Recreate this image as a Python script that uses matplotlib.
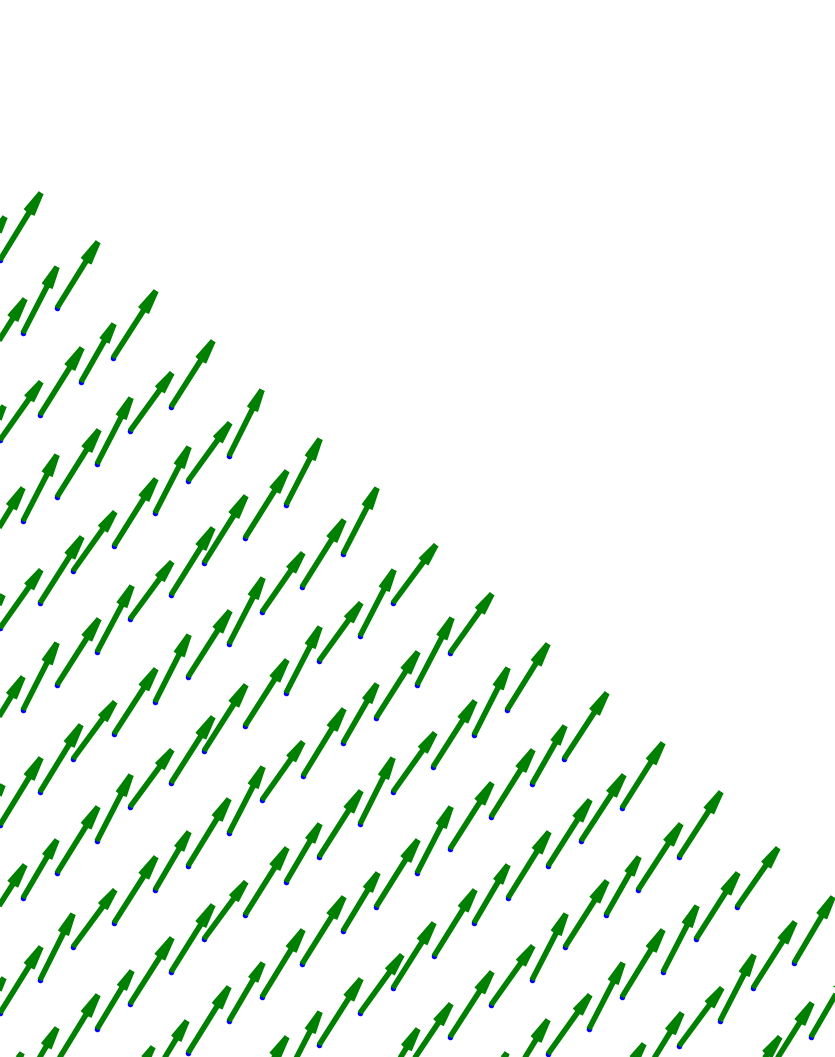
import numpy as np
import matplotlib
matplotlib.use("Agg")
import matplotlib.pyplot as plt
from matplotlib.collections import LineCollection

# tails (blue dots) and tips of the arrows (pixel units, y down)
tail_x = [0, -34,
          57, 23, -17,
          113, 81, 40, 0, -34,
          171, 130, 97, 57, 23, -17,
          229, 188, 155, 114, 73, 40, 0, -34,
          286, 245, 204, 171, 130, 97, 57, 23, -17,
          343, 302, 262, 229, 188, 155, 114, 73, 40, 0, -34,
          393, 360, 319, 286, 245, 204, 171, 130, 97, 57, 23, -17,
          450, 417, 376, 343, 303, 262, 229, 188, 155, 114, 73, 40, 0, -34,
          507, 474, 433, 393, 360, 319, 286, 245, 204, 171, 130, 97, 57, 20, -17,
          564, 532, 491, 450, 417, 376, 343, 302, 262, 229, 188, 150, 113,
          622, 581, 548, 508, 474, 434, 393, 360, 319, 286, 245,
          679, 638, 606, 565, 532, 491, 450, 408, 378,
          737, 696, 663, 622, 589, 548, 507, 470,
          794, 753, 720, 679, 642, 605,
          811, 770, 736]
tail_y = [260, 284,
          308, 333, 366,
          358, 382, 415, 440, 474,
          407, 431, 464, 497, 521, 554,
          456, 481, 513, 546, 571, 603, 628, 657,
          505, 538, 563, 595, 619, 652, 685, 710, 743,
          554, 587, 612, 644, 677, 702, 734, 759, 792, 825, 850,
          603, 636, 661, 693, 726, 751, 783, 807, 841, 873, 898, 931,
          653, 685, 718, 743, 776, 800, 833, 866, 890, 923, 947, 980, 1013, 1042,
          710, 735, 767, 792, 824, 857, 882, 915, 939, 972, 1004, 1029, 1062, 1091, 1120,
          759, 784, 817, 849, 873, 907, 931, 964, 997, 1021, 1053, 1082, 1111,
          808, 841, 866, 898, 923, 956, 988, 1013, 1045, 1078, 1103,
          857, 890, 915, 947, 980, 1005, 1037, 1068, 1094,
          907, 939, 972, 997, 1029, 1054, 1087, 1115,
          963, 988, 1021, 1046, 1078, 1105,
          1037, 1070, 1097]
tip_x = [41, 5,
         98, 57, 25,
         156, 114, 82, 41, 4,
         213, 172, 131, 99, 57, 23,
         262, 230, 189, 156, 115, 82, 41, 3,
         320, 287, 246, 213, 172, 132, 99, 57, 23,
         377, 344, 303, 263, 230, 189, 156, 115, 81, 41, 3,
         436, 394, 361, 320, 287, 246, 213, 172, 131, 98, 57, 25,
         492, 452, 418, 377, 344, 303, 263, 229, 189, 156, 115, 73, 41, 4,
         548, 508, 475, 435, 393, 361, 320, 287, 246, 213, 172, 132, 98, 57, 22,
         607, 565, 533, 492, 451, 418, 378, 344, 303, 263, 229, 187, 153,
         663, 624, 590, 549, 508, 475, 434, 402, 361, 320, 287,
         721, 681, 639, 607, 566, 533, 492, 451, 418,
         778, 738, 697, 663, 623, 590, 548, 507,
         833, 795, 754, 722, 682, 644,
         850, 812, 780]
tip_y = [193, 217,
         242, 267, 299,
         291, 324, 348, 382, 406,
         341, 373, 398, 430, 455, 488,
         390, 423, 447, 479, 512, 537, 570, 595,
         439, 471, 496, 528, 562, 586, 619, 643, 677,
         488, 520, 553, 578, 611, 635, 669, 702, 725, 758, 785,
         545, 570, 603, 627, 660, 685, 717, 750, 775, 807, 840, 865,
         594, 618, 652, 684, 709, 742, 767, 799, 832, 857, 890, 914, 947, 978,
         644, 668, 701, 733, 758, 791, 824, 848, 882, 905, 938, 971, 995, 1028, 1053,
         693, 726, 750, 783, 807, 840, 873, 897, 930, 963, 987, 1021, 1047,
         743, 775, 800, 832, 865, 890, 923, 955, 979, 1012, 1037,
         792, 824, 857, 881, 914, 946, 972, 1004, 1029,
         848, 873, 906, 930, 963, 995, 1020, 1053,
         897, 922, 955, 988, 1013, 1044,
         970, 1003, 1037]

W, H = 835, 1057
fig = plt.figure(figsize=(W / 100, H / 100), dpi=100)
ax = fig.add_axes([0, 0, 1, 1])
ax.set_xlim(0, W)
ax.set_ylim(H, 0)
ax.axis('off')

x0 = np.array(tail_x, float)
y0 = np.array(tail_y, float)
x1 = np.array(tip_x, float)
y1 = np.array(tip_y, float)

# shaft + two head strokes, like the 3d quiver draws them
dx, dy = x1 - x0, y1 - y0
L = np.hypot(dx, dy)
ux, uy = dx / L, dy / L
ang = np.deg2rad(9)
hl = 0.3 * L
segs = []
for k in range(len(x0)):
    segs.append([(x0[k], y0[k]), (x1[k], y1[k])])
    for s in (1, -1):
        c, sn = np.cos(s * ang), np.sin(s * ang)
        bx = -(ux[k] * c - uy[k] * sn)
        by = -(ux[k] * sn + uy[k] * c)
        segs.append([(x1[k], y1[k]), (x1[k] + hl[k] * bx, y1[k] + hl[k] * by)])

ax.scatter(x0, y0, s=16, c='blue', linewidths=0, zorder=1)
lc = LineCollection(segs, colors='green', linewidths=4.0, capstyle='butt', zorder=2)
ax.add_collection(lc)

fig.savefig('out.png', dpi=100)
